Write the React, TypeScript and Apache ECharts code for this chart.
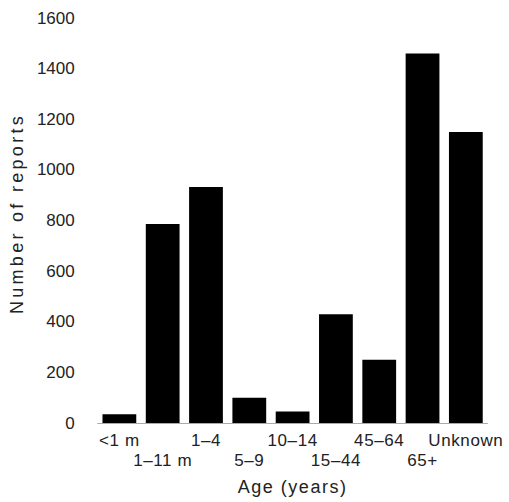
import React, { useEffect, useRef } from "react";
import * as echarts from "echarts";

const categories = ["<1 m", "1–11 m", "1–4", "5–9", "10–14", "15–44", "45–64", "65+", "Unknown"];
const reports = [35, 786, 932, 100, 45, 430, 250, 1460, 1150];
const yTicks = { min: 0, max: 1600, interval: 200 };

export default function App() {
  const ref = useRef<HTMLDivElement>(null);
  useEffect(() => {
    if (!ref.current) return;
    const chart = echarts.init(ref.current, null, { renderer: "svg" });
    const font = "'Liberation Sans', Arial, Helvetica, sans-serif";
    const fontWide = "'Liberation Sans', Arimo, sans-serif";
    const fontMid = "'Liberation Sans', Tinos, sans-serif";
    const fontLab = "'Liberation Sans', Cousine, sans-serif";
    chart.setOption({
      animation: false,
      backgroundColor: "#fff",
      grid: { left: 96, right: 21.5, top: 18, bottom: 79, containLabel: false },
      xAxis: {
        type: "category",
        data: categories,
        name: "Age (years)",
        nameLocation: "middle",
        nameGap: 55,
        nameTextStyle: { fontFamily: fontMid, fontSize: 18, color: "#222" },
        axisLine: { show: true, lineStyle: { color: "#aaa", width: 1 } },
        axisTick: { show: false },
        axisLabel: {
          interval: 0,
          margin: 7,
          fontFamily: fontLab,
          fontSize: 17,
          color: "#222",
          lineHeight: 20,
          formatter: (v: string, i: number) => (i % 2 === 1 ? "\n" + v : v),
        },
      },
      yAxis: {
        type: "value",
        min: yTicks.min,
        max: yTicks.max,
        interval: yTicks.interval,
        name: "Number of reports",
        nameLocation: "middle",
        nameGap: 66,
        nameTextStyle: { fontFamily: fontWide, fontSize: 18, color: "#222", padding: [0, 0, 0, 14] },
        axisLine: { show: false },
        axisTick: { show: false },
        splitLine: { show: false },
        axisLabel: {
          margin: 23,
          fontFamily: font,
          fontSize: 17,
          color: "#222",
          formatter: (v: number) => String(v),
        },
      },
      series: [
        {
          type: "bar",
          data: reports,
          barCategoryGap: "22%",
          itemStyle: { color: "#000" },
        },
      ],
    });
    return () => chart.dispose();
  }, []);
  return (
    <>
      <style>{`
        #chartbox text[style*="Arimo"], #chartbox text[font-family*="Arimo"] { letter-spacing: 3.3px; }
        #chartbox text[style*="Tinos"], #chartbox text[font-family*="Tinos"] { letter-spacing: 1.5px; }
        #chartbox text[style*="Cousine"], #chartbox text[font-family*="Cousine"] { letter-spacing: 0.6px; }
      `}</style>
      <div id="chartbox" ref={ref} style={{ width: 509, height: 502, position: "absolute", left: 0, top: 0 }} />
    </>
  );
}
